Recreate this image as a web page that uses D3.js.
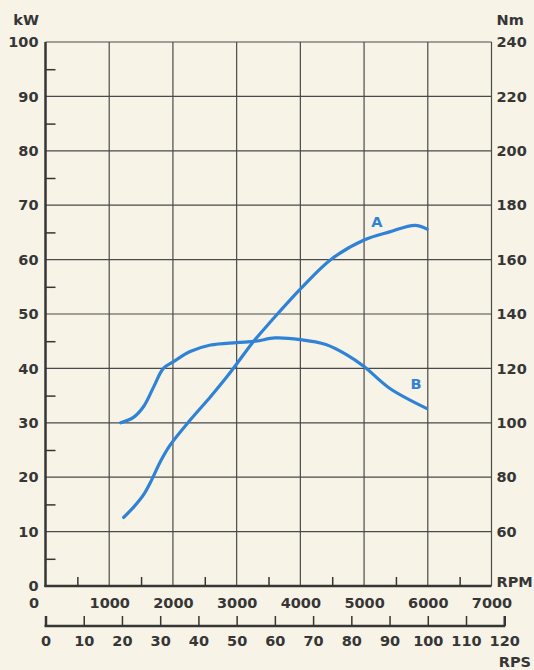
<!DOCTYPE html>
<html>
<head>
<meta charset="utf-8">
<script src="https://cdn.jsdelivr.net/npm/d3@7"></script>
<style>
  html, body { margin: 0; padding: 0; background: #f7f3e6; }
  svg { display: block; }
  text { font-family: "DejaVu Sans", sans-serif; font-weight: bold; fill: #363636; }
</style>
</head>
<body>
<svg id="chart" width="534" height="670"></svg>
<script>
'use strict';

// curve A - power (kW)
const powerRpm = [1227, 1390, 1540, 1670, 1800, 1950, 2270, 2590, 2850, 3000, 3240, 3550, 4010, 4490, 5000, 5400, 5800, 5990];
const powerKw  = [12.6, 14.6, 16.8, 19.6, 22.8, 25.8, 30.5, 34.8, 38.5, 40.8, 44.6, 48.8, 54.7, 60.1, 63.6, 65.1, 66.3, 65.6];

// curve B - torque (Nm)
const torqueRpm = [1180, 1380, 1540, 1700, 1850, 2010, 2270, 2590, 3000, 3300, 3600, 4000, 4400, 4730, 5000, 5400, 5980];
const torqueNm  = [100, 102, 106, 113.3, 120, 122.5, 126.2, 128.6, 129.5, 130, 131.2, 130.6, 128.8, 125, 120.7, 112.7, 105.3];

// tick labels
const kwTicks = d3.range(0, 101, 10);
const kwMinor = d3.range(5, 100, 10);
const nmTicks = d3.range(60, 241, 20);
const rpmTicks = d3.range(0, 7001, 1000);
const rpmMinor = d3.range(500, 7000, 1000);
const rpsTicks = d3.range(0, 121, 10);

const svg = d3.select('#chart');
const mLeft = 45.5, mRight = 491.5, mTop = 42, mBottom = 586;
const rpsY = 626;
const blue = '#2f82d6';
const ink = '#363636';
const fontSize = 14.5;

// scales
const x = d3.scaleLinear().domain([0, 7000]).range([mLeft, mRight]);
const yKw = d3.scaleLinear().domain([0, 100]).range([mBottom, mTop]);
const yNm = d3.scaleLinear().domain([40, 240]).range([mBottom, mTop]);
const xRps = d3.scaleLinear().domain([0, 120]).range([mLeft, x(7200)]);

// grid
svg.append('g')
  .selectAll('line')
  .data(rpmTicks.slice(1))
  .join('line')
  .attr('x1', d => x(d)).attr('x2', d => x(d))
  .attr('y1', mTop).attr('y2', mBottom)
  .attr('stroke', '#4a4a4a').attr('stroke-width', 1.2);

svg.append('g')
  .selectAll('line')
  .data(kwTicks.slice(1))
  .join('line')
  .attr('x1', mLeft).attr('x2', mRight)
  .attr('y1', d => yKw(d)).attr('y2', d => yKw(d))
  .attr('stroke', '#4a4a4a').attr('stroke-width', 1.2);

// minor ticks (inside the plot)
svg.append('g')
  .attr('transform', `translate(${mLeft},0)`)
  .call(d3.axisRight(yKw).tickValues(kwMinor).tickSize(10).tickFormat(''))
  .call(g => g.select('.domain').remove())
  .call(g => g.selectAll('line').attr('stroke', ink).attr('stroke-width', 1.5));

svg.append('g')
  .attr('transform', `translate(0,${mBottom})`)
  .call(d3.axisTop(x).tickValues(rpmMinor).tickSize(9).tickFormat(''))
  .call(g => g.select('.domain').remove())
  .call(g => g.selectAll('line').attr('stroke', ink).attr('stroke-width', 1.5));

// left axis labels (kW)
svg.append('g')
  .attr('transform', `translate(${mLeft},0)`)
  .call(d3.axisLeft(yKw).tickValues(kwTicks).tickSize(0).tickPadding(7))
  .call(g => g.select('.domain').remove())
  .call(g => g.selectAll('text').attr('font-size', fontSize).attr('font-family', null));

// right axis labels (Nm)
svg.append('g')
  .attr('transform', `translate(${mRight},0)`)
  .call(d3.axisRight(yNm).tickValues(nmTicks).tickSize(0).tickPadding(5))
  .call(g => g.select('.domain').remove())
  .call(g => g.selectAll('text').attr('font-size', fontSize).attr('font-family', null));

// bottom axis labels (RPM)
svg.append('g')
  .attr('transform', `translate(0,${mBottom})`)
  .call(d3.axisBottom(x).tickValues(rpmTicks).tickFormat(d3.format('d')).tickSize(0).tickPadding(12))
  .call(g => g.select('.domain').remove())
  .call(g => g.selectAll('text').attr('font-size', fontSize).attr('font-family', null))
  .call(g => g.selectAll('.tick').filter(d => d === 0).select('text')
    .attr('text-anchor', 'end').attr('x', -7));

// main axis lines
svg.append('line')
  .attr('x1', mLeft).attr('x2', mLeft).attr('y1', mTop).attr('y2', mBottom + 1)
  .attr('stroke', ink).attr('stroke-width', 2.5);
svg.append('line')
  .attr('x1', mLeft - 1).attr('x2', mRight).attr('y1', mBottom).attr('y2', mBottom)
  .attr('stroke', ink).attr('stroke-width', 2.5);

// RPS axis
svg.append('g')
  .attr('transform', `translate(0,${rpsY})`)
  .call(d3.axisTop(xRps).tickValues(rpsTicks).tickSize(10).tickSizeOuter(0).tickFormat(''))
  .call(g => g.select('.domain').remove())
  .call(g => g.selectAll('line').attr('stroke', ink).attr('stroke-width', 1.5))
  .call(g => g.selectAll('.tick').filter(d => d === 0 || d === 120).select('line')
    .attr('stroke-width', 2.5));
svg.append('line')
  .attr('x1', xRps(0) - 1).attr('x2', xRps(120) + 1).attr('y1', rpsY).attr('y2', rpsY)
  .attr('stroke', ink).attr('stroke-width', 2.5);
svg.append('g')
  .attr('transform', `translate(0,${rpsY})`)
  .call(d3.axisBottom(xRps).tickValues(rpsTicks).tickSize(0).tickPadding(10))
  .call(g => g.select('.domain').remove())
  .call(g => g.selectAll('text').attr('font-size', fontSize).attr('font-family', null));

// unit labels
svg.append('text').attr('x', 39).attr('y', 25).attr('text-anchor', 'end')
  .attr('font-size', fontSize).text('kW');
svg.append('text').attr('x', mRight + 5).attr('y', 25)
  .attr('font-size', fontSize).text('Nm');
svg.append('text').attr('x', mRight + 5).attr('y', mBottom + 1)
  .attr('font-size', fontSize).text('RPM');
svg.append('text').attr('x', 531).attr('y', 667).attr('text-anchor', 'end')
  .attr('font-size', fontSize).text('RPS');

// curves
const power = powerRpm.map((r, i) => ({ rpm: r, v: powerKw[i] }));
const torque = torqueRpm.map((r, i) => ({ rpm: r, v: torqueNm[i] }));

const lineA = d3.line().x(d => x(d.rpm)).y(d => yKw(d.v)).curve(d3.curveCatmullRom.alpha(0.5));
const lineB = d3.line().x(d => x(d.rpm)).y(d => yNm(d.v)).curve(d3.curveCatmullRom.alpha(0.5));

svg.append('path').datum(power)
  .attr('fill', 'none').attr('stroke', blue).attr('stroke-width', 3.2)
  .attr('stroke-linecap', 'round').attr('d', lineA);
svg.append('path').datum(torque)
  .attr('fill', 'none').attr('stroke', blue).attr('stroke-width', 3.2)
  .attr('stroke-linecap', 'round').attr('d', lineB);

// curve names
svg.append('text').attr('x', x(5200)).attr('y', yKw(66)).attr('text-anchor', 'middle')
  .attr('font-size', fontSize).style('fill', blue).text('A');
svg.append('text').attr('x', x(5815)).attr('y', yNm(112.4)).attr('text-anchor', 'middle')
  .attr('font-size', fontSize).style('fill', blue).text('B');
</script>
</body>
</html>
